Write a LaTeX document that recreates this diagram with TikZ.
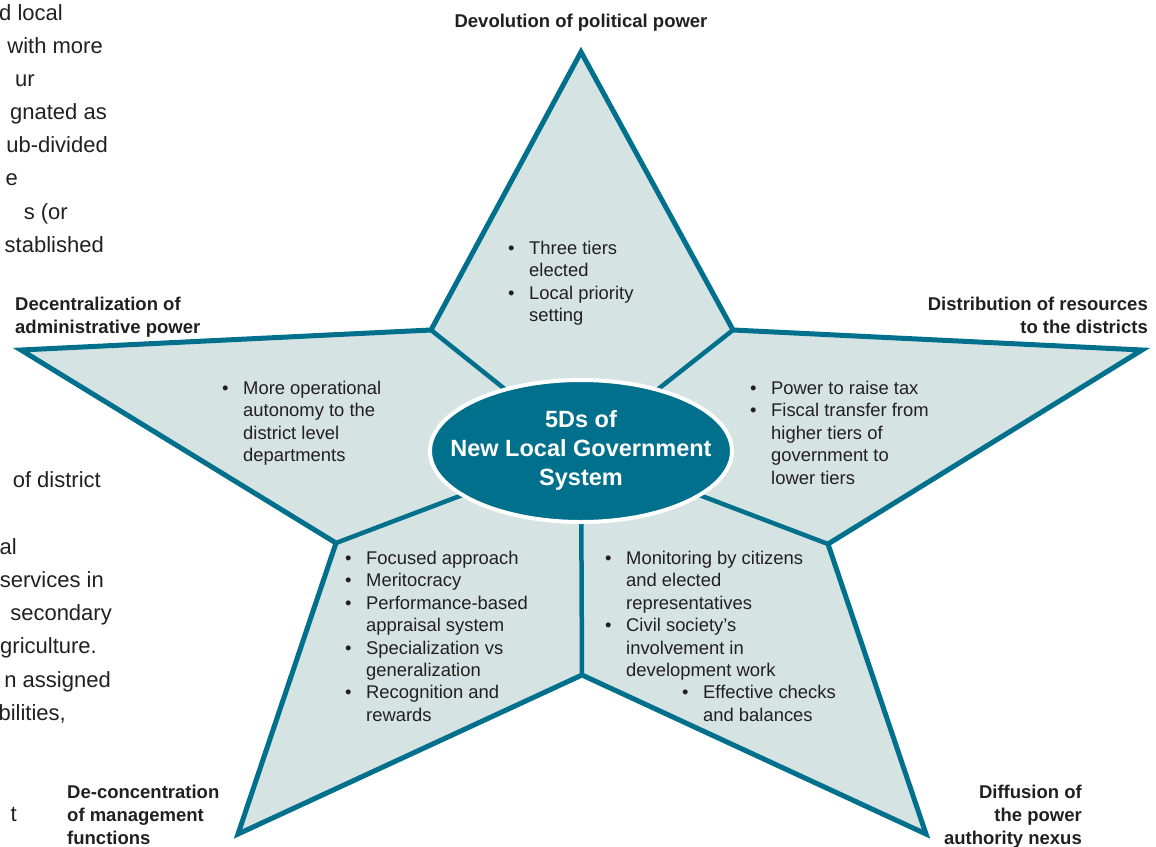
\documentclass[tikz,border=0pt]{standalone}
\usepackage{fontspec}
\setmainfont{Liberation Sans}
\usetikzlibrary{positioning, backgrounds}
\definecolor{starteal}{RGB}{0,112,140}
\definecolor{starfill}{RGB}{214,227,227}
\definecolor{inktext}{RGB}{35,31,32}
\newcommand{\bitem}[1]{\makebox[21pt][l]{\textbullet}#1}
\newcommand{\bcont}[1]{\hspace*{21pt}#1}

\begin{document}
\begin{tikzpicture}[x=1pt, y=-1pt,
                starshape/.style={draw=starteal, fill=starfill, line width=5pt, line join=miter},
                divider/.style={draw=starteal, line width=4.5pt},
                hub/.style={draw=white, fill=starteal, line width=4pt},
                hubtext/.style={text=white, align=center, inner sep=0pt, font=\fontsize{23.5}{29}\selectfont\bfseries},
                pointtext/.style={text=inktext, align=left, inner sep=0pt, anchor=north west, font=\fontsize{18.4}{22.4}\selectfont},
                dlabel/.style={text=inktext, inner sep=0pt, font=\fontsize{18.5}{22.8}\selectfont\bfseries},
                pagetext/.style={text=inktext, inner sep=0pt, anchor=base east, font=\fontsize{22}{33}\selectfont}]
                \useasboundingbox (0,0) rectangle (1156,846);

                % Star tips and inner corners
                \coordinate (top) at (581,52);
                \coordinate (uri) at (733,330);
                \coordinate (rtip) at (1142,350);
                \coordinate (lri) at (828,544);
                \coordinate (brtip) at (926,834);
                \coordinate (bi) at (582,675);
                \coordinate (bltip) at (238,834);
                \coordinate (lli) at (336,543);
                \coordinate (ltip) at (21,350);
                \coordinate (uli) at (431,330);

                % Hub
                \node[hubtext] (core) at (581,450) {5Ds of\\New Local Government\\System};

                \begin{scope}[on background layer]
                \draw[starshape] (top) -- (uri) -- (rtip) -- (lri) -- (brtip) -- (bi)
                                 -- (bltip) -- (lli) -- (ltip) -- (uli) -- cycle;
                \foreach \v in {uri,lri,bi,lli,uli}
                    \draw[divider] (\v) -- (core.center);
                \draw[hub] (581,451) ellipse [x radius=151, y radius=71];
                \end{scope}

                % The five Ds
                \node[dlabel, above=20pt of top] (devolution) {Devolution of political power};
                \node[dlabel, anchor=north west, align=left] (decentral) at (15,297) {Decentralization of\\administrative power};
                \node[dlabel, anchor=north east, align=right] (distrib) at (1148,297) {Distribution of resources\\to the districts};
                \node[dlabel, anchor=north west, align=left] (deconc) at (67,785) {De-concentration\\of management\\functions};
                \node[dlabel, anchor=north east, align=right] (diffusion) at (1082,785) {Diffusion of\\the power\\authority nexus};

                % Points inside the arms
                \node[pointtext] (toppts) at (508,241) {\bitem{Three tiers}\\\bcont{elected}\\\bitem{Local priority}\\\bcont{setting}};
                \node[pointtext] (leftpts) at (222,381) {\bitem{More operational}\\\bcont{autonomy to the}\\\bcont{district level}\\\bcont{departments}};
                \node[pointtext] (rightpts) at (750,381) {\bitem{Power to raise tax}\\\bitem{Fiscal transfer from}\\\bcont{higher tiers of}\\\bcont{government to}\\\bcont{lower tiers}};
                \node[pointtext] (blpts) at (345,551) {\bitem{Focused approach}\\\bitem{Meritocracy}\\\bitem{Performance-based}\\\bcont{appraisal system}\\\bitem{Specialization vs}\\\bcont{generalization}\\\bitem{Recognition and}\\\bcont{rewards}};
                \node[pointtext] (brpts) at (605,551) {\bitem{Monitoring by citizens}\\\bcont{and elected}\\\bcont{representatives}\\\bitem{Civil society’s}\\\bcont{involvement in}\\\bcont{development work}\\\hspace*{77pt}\bitem{Effective checks}\\\hspace*{77pt}\bcont{and balances}};

                % Page text at the left edge
                \node[pagetext] (p1) at (63,20) {d local};
                \node[pagetext] (p2) at (103,53) {with more};
                \node[pagetext] (p3) at (35,86) {ur};
                \node[pagetext] (p4) at (107,119) {gnated as};
                \node[pagetext] (p5) at (108,152) {ub-divided};
                \node[pagetext] (p6) at (18,185) {e};
                \node[pagetext] (p7) at (68,219) {s (or};
                \node[pagetext] (p8) at (104,252) {stablished};
                \node[pagetext] (p9) at (101,487) {of district};
                \node[pagetext] (p10) at (17,554) {al};
                \node[pagetext] (p11) at (104,587) {services in};
                \node[pagetext] (p12) at (112,620) {secondary};
                \node[pagetext] (p13) at (97,653) {griculture.};
                \node[pagetext] (p14) at (111,687) {n assigned};
                \node[pagetext] (p15) at (66,720) {bilities,};
                \node[pagetext] (p16) at (17,821) {t};
            \end{tikzpicture}
\end{document}
